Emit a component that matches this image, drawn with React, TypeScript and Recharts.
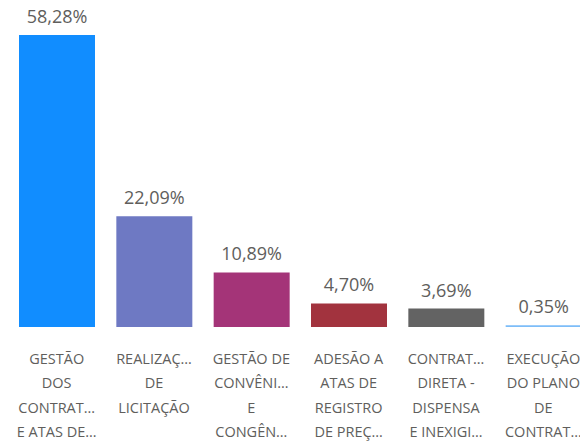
import { Bar, BarChart, Cell, LabelList, XAxis, YAxis } from "recharts";

const categories = ["gestao", "realizacao", "convenios", "adesao", "direta", "execucao"];

const tickLines: string[][] = [
  ["GESTÃO", "DOS", "CONTRAT…", "E ATAS DE…"],
  ["REALIZAÇ…", "DE", "LICITAÇÃO"],
  ["GESTÃO DE", "CONVÊNI…", "E", "CONGÊN…"],
  ["ADESÃO A", "ATAS DE", "REGISTRO", "DE PREÇ…"],
  ["CONTRAT…", "DIRETA -", "DISPENSA", "E INEXIGI…"],
  ["EXECUÇÃO", "DO PLANO", "DE", "CONTRAT…"],
];

const percents = [58.28, 22.09, 10.89, 4.7, 3.69, 0.35];

const colors = ["#118DFF", "#6E79C3", "#A43478", "#A2333E", "#636363", "#7DBDF8"];

const data = categories.map((c, i) => ({ name: c, value: percents[i], idx: i }));

const font = "'Open Sans', 'Noto Sans', sans-serif";

const fmt = (v: number) => `${v.toFixed(2).replace(".", ",")}%`;

function CategoryTick(props: any) {
  const { x, y, index } = props;
  const lines = tickLines[index] || [];
  return (
    <g>
      {lines.map((line, i) => (
        <text
          key={i}
          x={x}
          y={y + 29 + i * 24.3}
          textAnchor="middle"
          fill="#605E5C"
          fontSize={14.5}
          fontFamily={font}
        >
          {line}
        </text>
      ))}
    </g>
  );
}

function ValueLabel(props: any) {
  const { x, y, width, value } = props;
  return (
    <text
      x={x + width / 2}
      y={y - 12}
      textAnchor="middle"
      fill="#605E5C"
      fontSize={18}
      fontFamily={font}
    >
      {fmt(value)}
    </text>
  );
}

export default function App() {
  return (
    <div style={{ width: 580, height: 442, overflow: "hidden", marginTop: -8 }}>
      <BarChart
        width={584}
        height={442}
        data={data}
        margin={{ top: 35, right: 0, left: 0, bottom: 0 }}
      >
        <XAxis
          dataKey="name"
          axisLine={false}
          tickLine={false}
          interval={0}
          height={115}
          tick={<CategoryTick />}
        />
        <YAxis hide domain={[0, "dataMax"]} />
        <Bar dataKey="value" barSize={76} isAnimationActive={false}>
          {data.map((d) => (
            <Cell key={d.name} fill={colors[d.idx]} />
          ))}
          <LabelList dataKey="value" content={<ValueLabel />} />
        </Bar>
      </BarChart>
    </div>
  );
}
